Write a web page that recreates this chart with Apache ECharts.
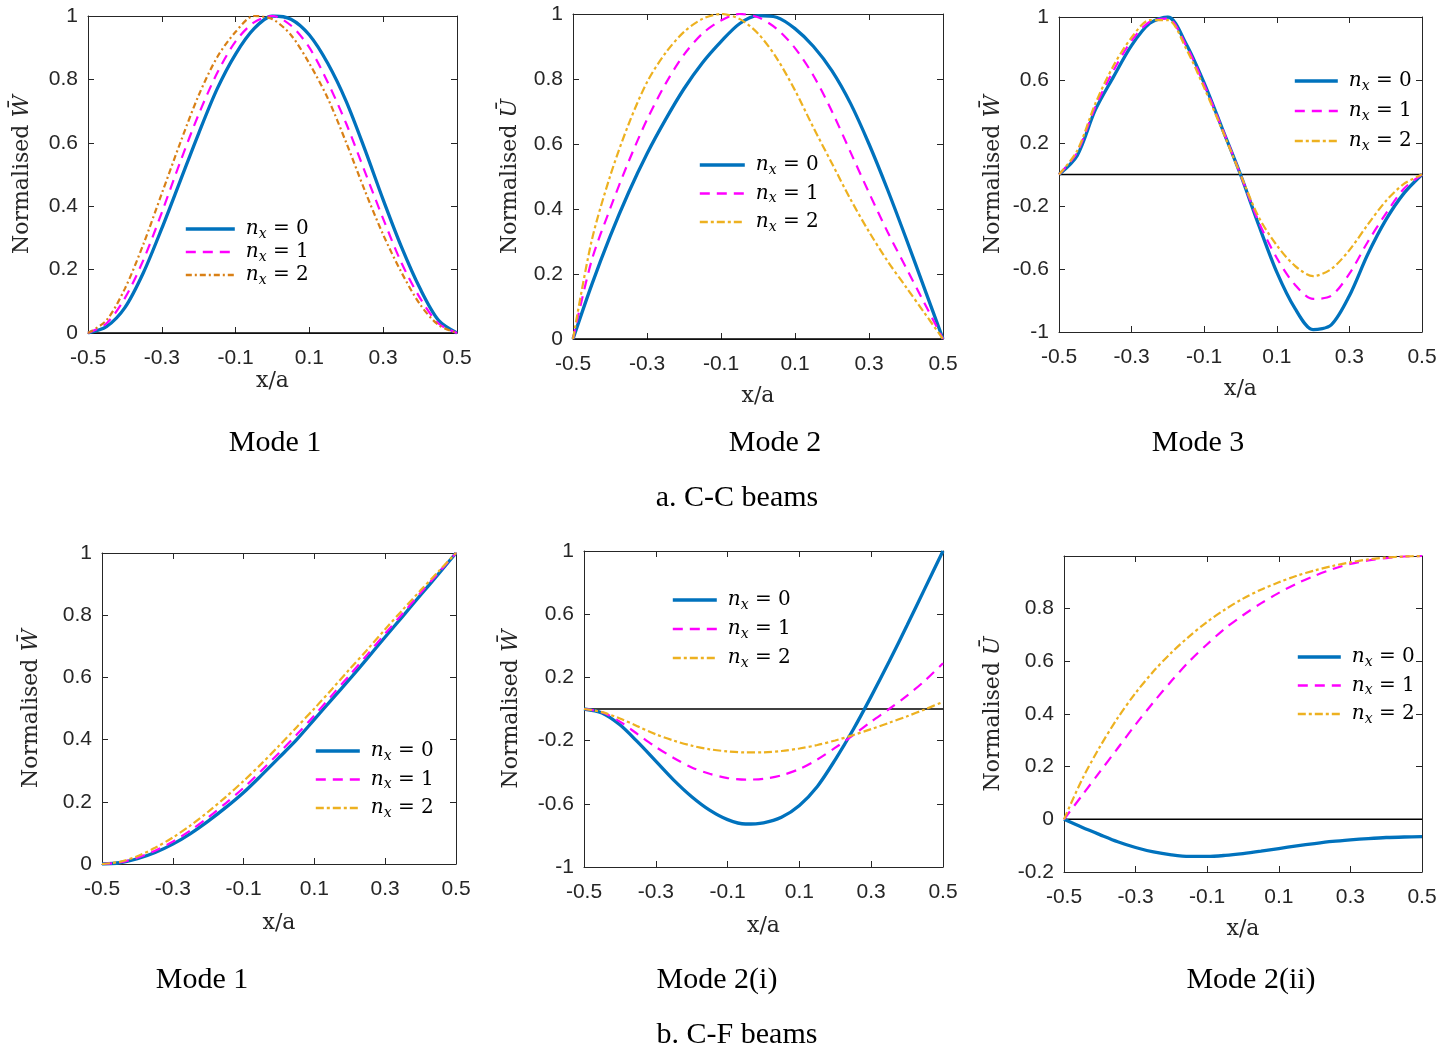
<!DOCTYPE html>
<html><head><meta charset="utf-8">
<script src="https://cdn.jsdelivr.net/npm/echarts@6/dist/echarts.min.js"></script>
<style>html,body{margin:0;padding:0;background:#fff}#c{width:1456px;height:1055px}</style>
</head><body><div id="c"></div>
<script>
// ---------- DATA ----------
const xs = [-0.5,-0.45,-0.4,-0.35,-0.3,-0.25,-0.2,-0.15,-0.1,-0.05,0,0.05,0.1,0.15,0.2,0.25,0.3,0.35,0.4,0.45,0.5];
const xTicks = [-0.5,-0.3,-0.1,0.1,0.3,0.5];
const yTicksUnit = [0,0.2,0.4,0.6,0.8,1];
const yTicksSym = [-1,-0.6,-0.2,0.2,0.6,1];
const yTicksP6 = [-0.2,0,0.2,0.4,0.6,0.8];
const zeroLine = [[-0.5,0],[0.5,0]];

// a. C-C beams, Mode 1 (W)
const ccM1_n0 = [0,0.02,0.08,0.19,0.33,0.48,0.63,0.77,0.88,0.96,1.0,0.99,0.94,0.85,0.73,0.58,0.42,0.27,0.14,0.04,0];
const ccM1_n1 = [0,0.03,0.11,0.23,0.38,0.54,0.69,0.82,0.92,0.98,1.0,0.97,0.90,0.79,0.66,0.51,0.36,0.22,0.11,0.03,0];
const ccM1_n2 = [0,0.04,0.14,0.28,0.44,0.60,0.75,0.87,0.95,1.0,0.99,0.94,0.85,0.74,0.60,0.45,0.31,0.19,0.09,0.025,0];
// a. C-C beams, Mode 2 (U)
const ccM2_n0 = [0,0.165,0.315,0.45,0.57,0.675,0.77,0.85,0.915,0.97,0.995,0.99,0.955,0.90,0.825,0.725,0.60,0.46,0.31,0.155,0];
const ccM2_n1 = [0,0.24,0.40,0.545,0.675,0.785,0.875,0.94,0.98,1.0,0.99,0.955,0.895,0.81,0.70,0.575,0.45,0.33,0.22,0.11,0];
const ccM2_n2 = [0,0.30,0.50,0.66,0.79,0.88,0.945,0.985,1.0,0.985,0.94,0.865,0.765,0.65,0.54,0.43,0.33,0.24,0.16,0.08,0];
// a. C-C beams, Mode 3 (W)
const ccM3_n0 = [0,0.12,0.41,0.62,0.82,0.96,1.0,0.83,0.58,0.29,0,-0.32,-0.62,-0.85,-0.985,-0.955,-0.77,-0.51,-0.29,-0.12,0];
const ccM3_n1 = [0,0.14,0.43,0.66,0.85,0.97,0.99,0.82,0.57,0.29,0,-0.30,-0.53,-0.70,-0.79,-0.77,-0.63,-0.43,-0.25,-0.09,0];
const ccM3_n2 = [0,0.15,0.45,0.69,0.87,0.98,0.98,0.80,0.55,0.28,0,-0.27,-0.45,-0.58,-0.645,-0.60,-0.48,-0.32,-0.17,-0.06,0];
// b. C-F beams, Mode 1 (W)
const cfM1_n0 = [0,0.004,0.017,0.037,0.064,0.098,0.138,0.182,0.23,0.285,0.342,0.40,0.465,0.53,0.595,0.662,0.73,0.797,0.865,0.932,1.0];
const cfM1_n1 = [0,0.005,0.02,0.043,0.072,0.108,0.15,0.196,0.245,0.30,0.357,0.416,0.478,0.543,0.608,0.674,0.741,0.806,0.872,0.936,1.0];
const cfM1_n2 = [0,0.007,0.025,0.052,0.085,0.124,0.168,0.216,0.267,0.322,0.38,0.44,0.50,0.563,0.627,0.69,0.755,0.818,0.88,0.94,1.0];
// b. C-F beams, Mode 2(i) (W)
const cfM2i_n0 = [0,-0.025,-0.10,-0.21,-0.33,-0.45,-0.555,-0.64,-0.70,-0.728,-0.72,-0.685,-0.61,-0.49,-0.32,-0.13,0.08,0.30,0.53,0.765,1.0];
const cfM2i_n1 = [0,-0.02,-0.08,-0.16,-0.24,-0.31,-0.37,-0.41,-0.437,-0.447,-0.442,-0.42,-0.38,-0.32,-0.245,-0.165,-0.08,0.0,0.085,0.18,0.29];
const cfM2i_n2 = [0,-0.02,-0.06,-0.11,-0.16,-0.20,-0.232,-0.255,-0.268,-0.275,-0.274,-0.266,-0.25,-0.228,-0.199,-0.165,-0.127,-0.087,-0.046,-0.002,0.045];
// b. C-F beams, Mode 2(ii) (U)
const cfM2ii_n0 = [0,-0.03,-0.058,-0.085,-0.107,-0.124,-0.135,-0.141,-0.141,-0.137,-0.13,-0.121,-0.111,-0.101,-0.092,-0.084,-0.078,-0.073,-0.069,-0.067,-0.066];
const cfM2ii_n1 = [0,0.09,0.18,0.27,0.36,0.445,0.525,0.60,0.665,0.725,0.775,0.82,0.86,0.895,0.925,0.95,0.97,0.983,0.992,0.998,1.0];
const cfM2ii_n2 = [0,0.15,0.275,0.385,0.48,0.562,0.633,0.695,0.75,0.797,0.838,0.872,0.90,0.925,0.945,0.962,0.976,0.987,0.994,0.998,1.0];

const seriesLabels = ['0','1','2'];
const panelTitles = ['Mode 1','Mode 2','Mode 3','Mode 1','Mode 2(i)','Mode 2(ii)'];
const groupTitles = ['a. C-C beams','b. C-F beams'];

// ---------- LAYOUT / STYLE ----------
const panels = [
  {grid:{left:88,top:16,width:369,height:317}, y:[0,1], yt:yTicksUnit, yname:'W\u0304', data:[ccM1_n0,ccM1_n1,ccM1_n2], zero:true, c2:'#D98016', d2:[6,3,2,3],
   leg:{left:184,top:219,gap:1,w:49}, ygap:55, xgap:37, title:[275,443]},
  {grid:{left:573,top:14,width:370,height:325}, y:[0,1], yt:yTicksUnit, yname:'U\u0304', data:[ccM2_n0,ccM2_n1,ccM2_n2], zero:true, c2:'#EDB120', d2:[8,3,3,3],
   leg:{left:698,top:155,gap:6.5,w:45}, ygap:52, xgap:46, title:[775,443]},
  {grid:{left:1059,top:17,width:363,height:315}, y:[-1,1], yt:yTicksSym, yname:'W\u0304', data:[ccM3_n0,ccM3_n1,ccM3_n2], zero:true, c2:'#EDB120', d2:[8,3,3,3],
   leg:{left:1293,top:71,gap:8,w:43}, ygap:55, xgap:46, title:[1198,443]},
  {grid:{left:102,top:553,width:354,height:311}, y:[0,1], yt:yTicksUnit, yname:'W\u0304', data:[cfM1_n0,cfM1_n1,cfM1_n2], zero:false, c2:'#EDB120', d2:[8,3,3,3],
   leg:{left:314,top:741,gap:6.5,w:44}, ygap:60, xgap:48, title:[202,980]},
  {grid:{left:584,top:551,width:359,height:316}, y:[-1,1], yt:yTicksSym, yname:'W\u0304', data:[cfM2i_n0,cfM2i_n1,cfM2i_n2], zero:true, c2:'#EDB120', d2:[8,3,3,3],
   leg:{left:671,top:590,gap:7,w:44}, ygap:62, xgap:48, title:[717,980]},
  {grid:{left:1064,top:556,width:358,height:316}, y:[-0.2,1], yt:yTicksP6, yname:'U\u0304', data:[cfM2ii_n0,cfM2ii_n1,cfM2ii_n2], zero:true, c2:'#EDB120', d2:[8,3,3,3],
   leg:{left:1296,top:647,gap:6.5,w:43}, ygap:60, xgap:46, title:[1251,980]}
];

const AX = '#262626';
const tickFont = {fontFamily:'Liberation Sans, Arial, sans-serif', fontSize:21, color:AX};
const serif = 'DejaVu Serif';

const grids=[], xAxes=[], yAxes=[], series=[], legends=[], graphics=[];
panels.forEach((p,i)=>{
  grids.push(Object.assign({containLabel:false}, p.grid));
  xAxes.push({type:'value', gridIndex:i, min:-0.5, max:0.5, position:'bottom',
    name:'x/a', nameLocation:'middle', nameGap:p.xgap,
    nameTextStyle:{fontFamily:serif, fontSize:22, color:AX},
    axisLine:{show:true, onZero:false, lineStyle:{color:AX, width:1}},
    axisTick:{show:true, inside:true, length:6, customValues:xTicks, lineStyle:{color:AX}},
    axisLabel:{show:true, margin:15, customValues:xTicks, ...tickFont},
    splitLine:{show:false}});
  xAxes.push({type:'value', gridIndex:i, min:-0.5, max:0.5, position:'top',
    axisLine:{show:true, onZero:false, lineStyle:{color:AX, width:1}},
    axisTick:{show:true, inside:true, length:6, customValues:xTicks, lineStyle:{color:AX}},
    axisLabel:{show:false}, splitLine:{show:false}});
  yAxes.push({type:'value', gridIndex:i, min:p.y[0], max:p.y[1], position:'left',
    name:'{a|Normalised }{b|'+p.yname+'}', nameLocation:'middle', nameGap:p.ygap,
    nameTextStyle:{color:AX, rich:{a:{fontFamily:serif, fontSize:22, color:AX}, b:{fontFamily:serif, fontStyle:'italic', fontSize:22, color:AX}}},
    axisLine:{show:true, onZero:false, lineStyle:{color:AX, width:1}},
    axisTick:{show:true, inside:true, length:6, customValues:p.yt, lineStyle:{color:AX}},
    axisLabel:{show:true, margin:10, customValues:p.yt, ...tickFont},
    splitLine:{show:false}});
  yAxes.push({type:'value', gridIndex:i, min:p.y[0], max:p.y[1], position:'right',
    axisLine:{show:true, onZero:false, lineStyle:{color:AX, width:1}},
    axisTick:{show:true, inside:true, length:6, customValues:p.yt, lineStyle:{color:AX}},
    axisLabel:{show:false}, splitLine:{show:false}});

  const xi = 2*i, yi = 2*i;
  if (p.zero) {
    series.push({type:'line', name:'zero'+i, xAxisIndex:xi, yAxisIndex:yi, data:zeroLine,
      symbol:'none', silent:true, lineStyle:{color:'#000', width:1.5}, z:1});
  }
  const styles = [
    {color:'#0072BD', width:3.3, type:'solid'},
    {color:'#FF00FF', width:2.2, type:[10,7]},
    {color:p.c2, width:2.2, type:p.d2}
  ];
  const legData=[];
  p.data.forEach((vals,k)=>{
    const nm = 'p'+i+'_n'+seriesLabels[k];
    legData.push({name:nm, lineStyle:{width:styles[k].width+0.3, color:styles[k].color, type:styles[k].type}});
    series.push({type:'line', name:nm, xAxisIndex:xi, yAxisIndex:yi,
      data: xs.map((x,j)=>[x, vals[j]]),
      smooth:0.3, symbol:'none', itemStyle:{color:styles[k].color},
      lineStyle:{color:styles[k].color, width:styles[k].width, type:styles[k].type}, z:2+k});
  });
  legends.push({data:legData, orient:'vertical', left:p.leg.left, top:p.leg.top, itemGap:p.leg.gap,
    itemWidth:p.leg.w, itemHeight:12, padding:0, selectedMode:false,
    itemStyle:{opacity:0},
    formatter: nm => '{n|n}{s|x}{t| = '+nm.slice(-1)+'}',
    textStyle:{color:'#000', rich:{
      n:{fontFamily:serif, fontStyle:'italic', fontSize:20, lineHeight:24, padding:[0,0,0,6], color:'#000'},
      s:{fontFamily:serif, fontStyle:'italic', fontSize:14, lineHeight:10, verticalAlign:'bottom', color:'#000'},
      t:{fontFamily:serif, fontSize:20, lineHeight:24, color:'#000'}}}});
  graphics.push({type:'text', x:p.title[0], y:p.title[1],
    style:{text:panelTitles[i], fontFamily:'Liberation Serif', fontSize:30, fill:'#000', align:'center', verticalAlign:'middle'}});
});
graphics.push({type:'text', x:737, y:498, style:{text:groupTitles[0], fontFamily:'Liberation Serif', fontSize:30, fill:'#000', align:'center', verticalAlign:'middle'}});
graphics.push({type:'text', x:737, y:1035, style:{text:groupTitles[1], fontFamily:'Liberation Serif', fontSize:30, fill:'#000', align:'center', verticalAlign:'middle'}});

const chart = echarts.init(document.getElementById('c'), null, {renderer:'canvas'});
chart.setOption({
  backgroundColor:'#fff', animation:false,
  grid:grids, xAxis:xAxes, yAxis:yAxes, series:series, legend:legends, graphic:graphics
});
</script></body></html>
